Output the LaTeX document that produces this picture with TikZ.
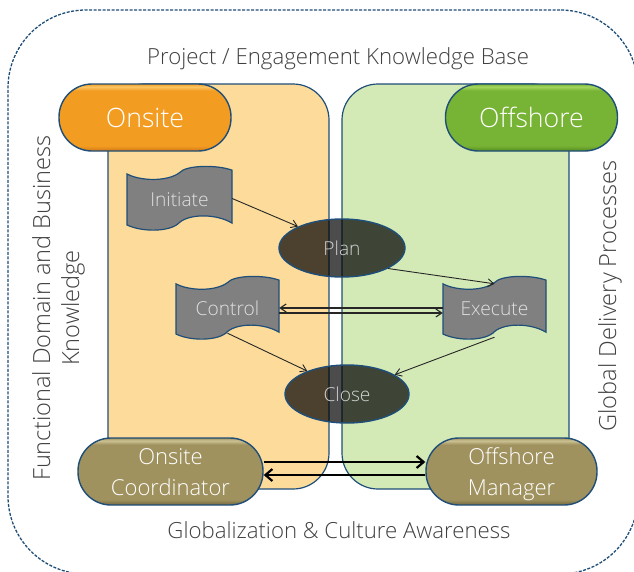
\documentclass[tikz,border=0pt]{standalone}
\usepackage{fontspec}
\setmainfont{Open Sans Light}
\usetikzlibrary{shapes.geometric,arrows.meta}
\definecolor{navy}{HTML}{1F4E79}
\definecolor{panelO}{HTML}{FDDC9B}
\definecolor{panelG}{HTML}{D3EAB7}
\definecolor{txt}{HTML}{404040}
\definecolor{oa}{HTML}{D98018}\definecolor{ob}{HTML}{F39C22}\definecolor{oc}{HTML}{FAC665}
\definecolor{ga}{HTML}{5E9525}\definecolor{gb}{HTML}{77B334}\definecolor{gc}{HTML}{A4D65F}
\definecolor{la}{HTML}{7D7247}\definecolor{lb}{HTML}{9F925E}\definecolor{lc}{HTML}{CDC294}
\pgfdeclareverticalshading{orangepill}{100bp}{color(0bp)=(oa);color(26bp)=(oa);color(29bp)=(ob);color(70bp)=(ob);color(73bp)=(oc);color(75bp)=(ob);color(100bp)=(ob)}
\pgfdeclareverticalshading{greenpill}{100bp}{color(0bp)=(ga);color(26bp)=(ga);color(29bp)=(gb);color(70bp)=(gb);color(73bp)=(gc);color(75bp)=(gb);color(100bp)=(gb)}
\pgfdeclareverticalshading{olivepill}{100bp}{color(0bp)=(la);color(26bp)=(la);color(29bp)=(lb);color(70bp)=(lb);color(73bp)=(lc);color(75bp)=(lb);color(100bp)=(lb)}
\newcommand{\lowered}[2]{\raisebox{-#1pt}[0pt][0pt]{#2}}
\tikzset{
  x=1pt,y=-1pt,
  panel/.style={draw=navy,line width=1.2pt,rounded corners=36pt,minimum width=#1,minimum height=405pt,inner sep=0pt},
  pill/.style={draw=navy,line width=1.4pt,rounded corners=33pt,text=white,inner sep=0pt,align=center},
  headpill/.style={pill,minimum width=172pt,minimum height=67pt,font=\fontsize{26.7}{32}\selectfont},
  rolepill/.style={pill,minimum width=#1,minimum height=67pt,font=\fontsize{22}{31}\selectfont},
  waveshape/.style={draw=navy,line width=1.2pt,fill=black!50},
  wavetext/.style={inner sep=0pt,text=white!88!black,font=\fontsize{19.2}{24}\selectfont},
  oval/.style={ellipse,draw=navy,line width=1.4pt,fill=black,fill opacity=.7,text opacity=1,text=white!82!black,inner sep=0pt,minimum width=#1,minimum height=58pt,font=\fontsize{19.2}{24}\selectfont},
  caption/.style={text=txt,inner sep=0pt,align=center,font=\fontsize{22.2}{30}\selectfont},
  sidecaption/.style={caption,rotate=90,font=\fontsize{23.6}{29}\selectfont},
  thinarrow/.style={draw=black!85,line width=.9pt,-{Straight Barb[length=6pt,width=8pt]}},
  thickarrow/.style={draw=black,line width=2.2pt,-{Straight Barb[length=7pt,width=12pt]}},
  flatline/.style={draw=black!85,line width=1.1pt,-{Straight Barb[length=6pt,width=8pt]}}
}
\newcommand{\wavenode}[6]{%
  \begin{scope}[shift={(#2pt,-#3pt)},x=#4pt,y=-#5pt]
    \path[waveshape] (0,0.11) .. controls (0.12,0.22) and (0.38,0.24) .. (0.5,0.09)
      .. controls (0.56,-0.03) and (0.85,-0.04) .. (1,0.05) -- (1,0.89)
      .. controls (0.85,0.74) and (0.6,0.74) .. (0.5,0.88)
      .. controls (0.42,1.03) and (0.15,1.04) .. (0,0.92) -- cycle;
  \end{scope}
  \node[wavetext,minimum width=#4pt,minimum height=#5pt] (#1) at (#2+#4/2,#3+#5/2) {\strut\lowered{3}{#6}};
}
\begin{document}
\begin{tikzpicture}
\useasboundingbox (0,0) rectangle (634,571);
\fill[white] (0,0) rectangle (634,571);
\node[draw=navy,line width=1.3pt,dash pattern=on 3pt off 1.5pt,rounded corners=78pt,minimum width=630pt,minimum height=564pt,inner sep=0pt] (outer) at (323,292) {};
\node[panel=221pt,fill=panelO] (opanel) at (218.5,286.5) {};
\node[panel=227pt,fill=panelG] (gpanel) at (455.5,286.5) {};
\node[caption] (kb) at (338,59) {Project / Engagement Knowledge Base};
\node[caption] (glob) at (339,530) {Globalization \& Culture Awareness};
\node[sidecaption] (func) at (58.5,308) {Functional Domain and Business\\Knowledge};
\node[sidecaption] (gdp) at (610,296) {Global Delivery Processes};
\node[headpill,shading=orangepill] (onsite) at (145,117.5) {Onsite};
\node[headpill,shading=greenpill] (offshore) at (531.5,117.5) {Offshore};
\wavenode{init}{127}{167}{105}{63}{Initiate}
\wavenode{ctrl}{176}{277}{103}{62}{Control}
\wavenode{exec}{443}{277}{103}{62}{Execute}
\node[oval=126pt] (plan) at (342,248) {\strut\lowered{2.5}{Plan}};
\node[oval=124pt] (close) at (347,394) {\strut\lowered{3}{Close}};
\node[rolepill=185pt,shading=olivepill] (ocoord) at (170.5,471.5) {\strut\lowered{2}{Onsite}\\\strut\lowered{2}{Coordinator}};
\node[rolepill=171pt,shading=olivepill] (omgr) at (511.5,471.5) {\strut\lowered{2}{Offshore}\\\strut\lowered{2}{Manager}};
\draw[thinarrow] (init.east) -- (plan.154);
\draw[thinarrow] (plan.-24) -- ([yshift=-7pt]exec.north);
\draw[flatline] ([yshift=0pt]exec.west) -- ([yshift=0pt]ctrl.east);
\draw[flatline] ([yshift=-5pt]ctrl.east) -- ([yshift=-5pt]exec.west);
\draw[thinarrow] ([yshift=6pt]ctrl.south) -- (close.150);
\draw[thinarrow] ([yshift=2pt]exec.south) -- (close.22);
\draw[thickarrow] ([yshift=9.5pt]ocoord.east) -- ([yshift=9.5pt]omgr.west);
\draw[thickarrow] ([yshift=-3.5pt]omgr.west) -- ([yshift=-3.5pt]ocoord.east);
\end{tikzpicture}
\end{document}
